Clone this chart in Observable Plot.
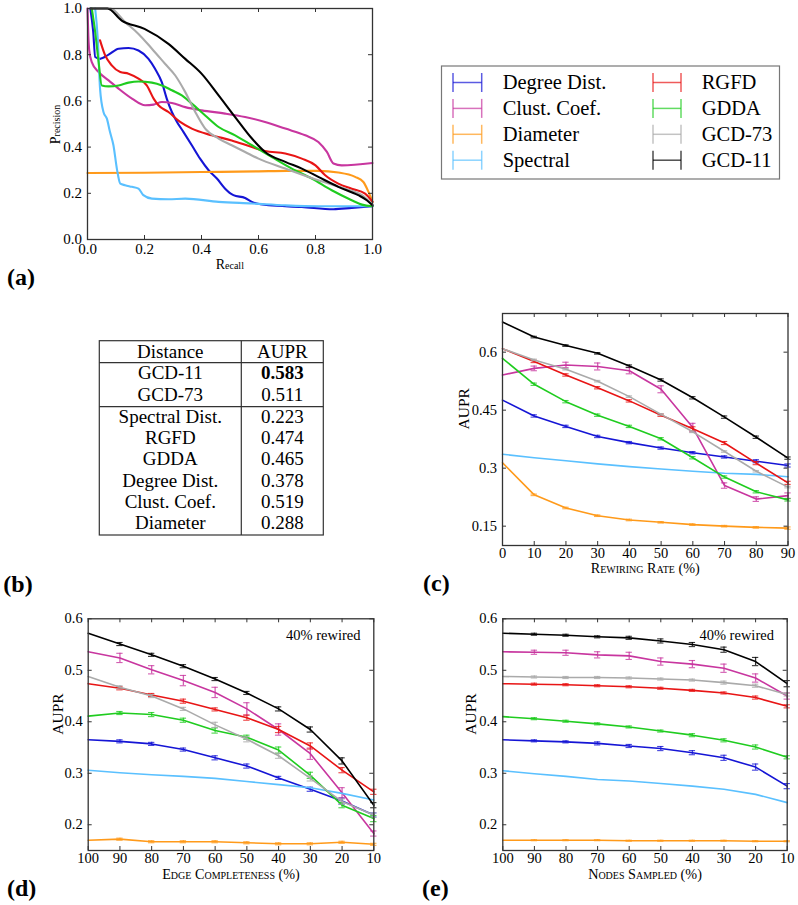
<!DOCTYPE html>
<html><head><meta charset="utf-8">
<script src="https://cdn.jsdelivr.net/npm/d3@7"></script>
<script src="https://cdn.jsdelivr.net/npm/@observablehq/plot@0.6"></script>
<style>
html,body{margin:0;padding:0;background:#fff;}
#root{position:relative;width:798px;height:905px;overflow:hidden;background:#fff;font-family:'Liberation Serif','Times New Roman',serif;}
#root svg{position:absolute;}
</style></head><body><div id="root"></div>
<script>
// ---------- series ----------
const seriesNames = ["Degree Dist.","Clust. Coef.","Diameter","Spectral","RGFD","GDDA","GCD-73","GCD-11"];
const seriesColors = ["#1515d5","#c8369f","#ff9a1a","#5ac0ff","#e81515","#1fcc1f","#aaaaaa","#000000"];

// ---------- (a) precision-recall curves: [recall, precision] ----------
const prDegree = [[0.01,1.0],[0.02,0.9],[0.027,0.79],[0.044,0.782],[0.074,0.80],[0.109,0.826],[0.144,0.829],[0.179,0.818],[0.214,0.782],[0.237,0.739],[0.261,0.68],[0.278,0.61],[0.296,0.552],[0.314,0.509],[0.337,0.465],[0.366,0.408],[0.395,0.35],[0.425,0.30],[0.454,0.264],[0.483,0.22],[0.512,0.192],[0.553,0.18],[0.577,0.163],[0.635,0.148],[0.752,0.141],[0.863,0.131],[0.927,0.137],[1.0,0.144]];
const prClust = [[0.0,1.0],[0.003,0.88],[0.006,0.82],[0.015,0.768],[0.039,0.725],[0.074,0.689],[0.109,0.653],[0.156,0.61],[0.202,0.581],[0.232,0.584],[0.261,0.595],[0.296,0.591],[0.343,0.573],[0.401,0.559],[0.483,0.545],[0.553,0.53],[0.623,0.509],[0.694,0.48],[0.764,0.451],[0.81,0.422],[0.84,0.379],[0.863,0.329],[0.892,0.321],[1.0,0.331]];
const prDiameter = [[0.0,0.288],[0.2,0.289],[0.4,0.292],[0.6,0.295],[0.7,0.297],[0.81,0.297],[0.88,0.29],[0.939,0.271],[0.968,0.249],[0.986,0.206],[1.0,0.163]];
const prSpectral = [[0.027,1.0],[0.036,0.869],[0.044,0.653],[0.056,0.552],[0.068,0.523],[0.079,0.465],[0.091,0.408],[0.103,0.307],[0.115,0.242],[0.132,0.235],[0.156,0.228],[0.179,0.22],[0.196,0.192],[0.226,0.177],[0.284,0.174],[0.343,0.177],[0.46,0.163],[0.577,0.156],[0.694,0.148],[0.81,0.144],[1.0,0.144]];
const prRGFD = [[0.044,0.862],[0.062,0.797],[0.085,0.754],[0.115,0.725],[0.144,0.718],[0.179,0.696],[0.208,0.667],[0.232,0.61],[0.249,0.581],[0.284,0.552],[0.325,0.509],[0.366,0.48],[0.436,0.451],[0.506,0.429],[0.577,0.40],[0.623,0.383],[0.694,0.372],[0.752,0.35],[0.80,0.321],[0.834,0.278],[0.88,0.242],[0.927,0.22],[0.974,0.199],[1.0,0.163]];
const prGDDA = [[0.015,1.0],[0.027,0.898],[0.039,0.768],[0.05,0.667],[0.074,0.663],[0.109,0.667],[0.144,0.679],[0.179,0.684],[0.226,0.679],[0.261,0.667],[0.296,0.646],[0.331,0.624],[0.366,0.588],[0.413,0.537],[0.46,0.487],[0.518,0.451],[0.577,0.408],[0.647,0.357],[0.717,0.307],[0.787,0.264],[0.857,0.213],[0.927,0.17],[0.963,0.151],[1.0,0.144]];
const prGCD73 = [[0.01,1.0],[0.08,1.0],[0.132,0.941],[0.179,0.89],[0.226,0.826],[0.272,0.761],[0.308,0.71],[0.343,0.638],[0.378,0.552],[0.413,0.48],[0.46,0.437],[0.506,0.408],[0.553,0.379],[0.6,0.35],[0.694,0.307],[0.81,0.256],[0.904,0.22],[0.963,0.192],[1.0,0.151]];
const prGCD11 = [[0.01,1.0],[0.07,1.0],[0.12,0.948],[0.2,0.912],[0.284,0.847],[0.343,0.782],[0.40,0.718],[0.46,0.624],[0.518,0.53],[0.577,0.437],[0.623,0.379],[0.694,0.336],[0.752,0.307],[0.81,0.271],[0.88,0.228],[0.95,0.192],[0.98,0.17],[1.0,0.148]];
const prCurves = [prDegree, prClust, prDiameter, prSpectral, prRGFD, prGDDA, prGCD73, prGCD11];
const prTicks = [0,0.2,0.4,0.6,0.8,1.0];

// ---------- (b) table ----------
const tableDistances = ["GCD-11","GCD-73","Spectral Dist.","RGFD","GDDA","Degree Dist.","Clust. Coef.","Diameter"];
const tableAUPR = ["0.583","0.511","0.223","0.474","0.465","0.378","0.519","0.288"];

// ---------- (c) rewiring ----------
const rewiringRate = [0,10,20,30,40,50,60,70,80,90];
const auprRewiring = [
  [0.476,0.435,0.408,0.382,0.366,0.352,0.340,0.329,0.318,0.307],
  [0.541,0.558,0.567,0.563,0.552,0.504,0.405,0.255,0.220,0.229],
  [0.314,0.231,0.197,0.177,0.166,0.160,0.154,0.150,0.147,0.145],
  [0.336,0.327,0.319,0.311,0.304,0.298,0.292,0.287,0.284,0.278],
  [0.609,0.576,0.541,0.508,0.474,0.437,0.402,0.365,0.313,0.262],
  [0.584,0.517,0.472,0.437,0.408,0.376,0.327,0.277,0.239,0.218],
  [0.609,0.580,0.556,0.525,0.485,0.439,0.394,0.343,0.292,0.251],
  [0.678,0.639,0.617,0.597,0.564,0.528,0.482,0.432,0.380,0.326]];
const errRewiring = [
  [0,.003,.003,.003,.003,.003,.003,.003,.004,.004],
  [0,.006,.007,.009,.008,.009,.011,.007,.006,.007],
  [0,.002,.002,.002,.002,.002,.002,.002,.002,.003],
  [0,0,0,0,0,0,0,0,0,0],
  [0,.003,.003,.003,.003,.003,.005,.004,.004,.004],
  [0,.003,.003,.003,.003,.003,.003,.003,.003,.003],
  [0,.002,.002,.002,.002,.002,.002,.002,.002,.002],
  [0,.002,.002,.002,.003,.003,.003,.003,.003,.003]];
const ticksRewiringY = [0.15,0.3,0.45,0.6];

// ---------- (d) edge completeness ----------
const percentLevels = [100,90,80,70,60,50,40,30,20,10];
const auprCompleteness = [
  [0.365,0.362,0.357,0.346,0.330,0.314,0.291,0.269,0.246,0.219],
  [0.536,0.524,0.501,0.480,0.457,0.425,0.385,0.338,0.262,0.183],
  [0.170,0.172,0.167,0.167,0.167,0.165,0.163,0.163,0.166,0.162],
  [0.306,0.301,0.297,0.294,0.290,0.284,0.278,0.272,0.261,0.248],
  [0.474,0.465,0.452,0.440,0.424,0.408,0.385,0.353,0.306,0.264],
  [0.411,0.417,0.414,0.403,0.383,0.370,0.345,0.296,0.238,0.212],
  [0.488,0.467,0.450,0.425,0.394,0.366,0.334,0.290,0.245,0.219],
  [0.572,0.551,0.530,0.508,0.483,0.456,0.425,0.385,0.324,0.238]];
const errCompleteness = [
  [0,.003,.003,.003,.004,.004,.003,.004,.006,.004],
  [0,.009,.008,.010,.010,.012,.011,.011,.010,.005],
  [0,.002,.002,.002,.002,.002,.002,.002,.002,.002],
  [0,0,0,0,0,0,0,0,0,0],
  [0,.003,.003,.004,.003,.005,.006,.006,.005,.005],
  [0,.003,.004,.004,.005,.004,.006,.006,.005,.006],
  [0,.003,.003,.003,.005,.005,.005,.005,.005,.004],
  [0,.003,.003,.003,.003,.003,.004,.005,.006,.005]];

// ---------- (e) nodes sampled ----------
const auprSampled = [
  [0.365,0.363,0.361,0.358,0.353,0.348,0.340,0.330,0.312,0.275],
  [0.536,0.535,0.534,0.530,0.528,0.517,0.512,0.504,0.485,0.450],
  [0.170,0.170,0.170,0.170,0.169,0.169,0.169,0.169,0.168,0.168],
  [0.305,0.299,0.294,0.288,0.285,0.280,0.275,0.269,0.259,0.243],
  [0.474,0.473,0.472,0.470,0.468,0.465,0.461,0.456,0.447,0.430],
  [0.410,0.406,0.401,0.396,0.390,0.382,0.374,0.364,0.351,0.331],
  [0.488,0.487,0.486,0.486,0.485,0.483,0.481,0.476,0.470,0.453],
  [0.572,0.570,0.568,0.565,0.563,0.557,0.550,0.540,0.517,0.474]];
const errSampled = [
  [0,.002,.002,.003,.003,.004,.004,.005,.006,.005],
  [0,.004,.005,.006,.007,.007,.007,.008,.008,.006],
  [0,.001,.001,.001,.001,.001,.001,.001,.001,.001],
  [0,0,0,0,0,0,0,0,0,0],
  [0,.002,.002,.002,.002,.002,.002,.002,.003,.003],
  [0,.002,.002,.002,.002,.002,.003,.003,.004,.003],
  [0,.002,.002,.002,.002,.002,.002,.003,.003,.003],
  [0,.002,.002,.002,.003,.004,.004,.005,.008,.006]];
const ticksAuprY = [0.2,0.3,0.4,0.5,0.6];

// ---------- helpers ----------
const FONT = "'Liberation Serif', 'Times New Roman', serif";
const FRAME = "#333";
const root = document.getElementById("root");

function innerTicks(xTicks, yTicks, W, H, m) {
  const ih = H - m.top - m.bottom, iw = W - m.left - m.right, L = 4;
  return [
    Plot.tickX(xTicks, {x: d => d, insetTop: ih - L, stroke: FRAME}),
    Plot.tickX(xTicks, {x: d => d, insetBottom: ih - L, stroke: FRAME}),
    Plot.tickY(yTicks, {y: d => d, insetRight: iw - L, stroke: FRAME}),
    Plot.tickY(yTicks, {y: d => d, insetLeft: iw - L, stroke: FRAME})
  ];
}

function place(svg, left, top) {
  svg.style.left = left + "px";
  svg.style.top = top + "px";
  root.appendChild(svg);
  return svg;
}

// ---------- (a) ----------
{
  const W = 385, H = 280, m = {top: 8, right: 13, bottom: 41, left: 87};
  const marks = [];
  prCurves.forEach((c, i) => {
    marks.push(Plot.line(c, {x: d => d[0], y: d => d[1], stroke: seriesColors[i], strokeWidth: 2.1, curve: "monotone-x"}));
  });
  marks.push(...innerTicks(prTicks, prTicks, W, H, m));
  marks.push(Plot.frame({stroke: FRAME, strokeWidth: 1.3}));
  const svg = Plot.plot({
    width: W, height: H, marginTop: m.top, marginRight: m.right, marginBottom: m.bottom, marginLeft: m.left,
    style: {fontFamily: FONT, fontSize: "15px", color: "#000", background: "transparent", overflow: "visible"},
    x: {domain: [0, 1], ticks: prTicks, tickFormat: d3.format(".1f"), tickSize: 0, tickPadding: 4, label: null},
    y: {domain: [0, 1], ticks: prTicks, tickFormat: d3.format(".1f"), tickSize: 0, tickPadding: 5.5, label: null},
    marks
  });
  place(svg, 0, 0);
  const s = d3.select(svg);
  const t1 = s.append("text").attr("x", 229.8).attr("y", 268.5).attr("text-anchor", "middle")
    .style("font-family", FONT).attr("fill", "#000");
  t1.append("tspan").attr("font-size", 14).text("R");
  t1.append("tspan").attr("font-size", 10).text("ecall");
  const t2 = s.append("text").attr("transform", "translate(60,124.5) rotate(-90)").attr("text-anchor", "middle")
    .style("font-family", FONT).attr("fill", "#000");
  t2.append("tspan").attr("font-size", 14).text("P");
  t2.append("tspan").attr("font-size", 10).text("recision");
}

// ---------- line panels (c), (d), (e) ----------
function linePanel({xs, vals, errs, xDomain, xTicks, yDomain, yTicks, yFmt, W, H, m, xLabel, xLabelDy, xPad, yLabelDx, note, cap, left, top}) {
  const marks = [];
  vals.forEach((arr, i) => {
    const pts = arr.map((v, j) => ({x: xs[j], v, e: errs[i][j]}));
    marks.push(Plot.line(pts, {x: "x", y: "v", stroke: seriesColors[i], strokeWidth: 1.6}));
    const ep = pts.filter(p => p.e > 0);
    const c = seriesColors[i];
    marks.push(Plot.ruleX(ep, {x: "x", y1: p => p.v - p.e, y2: p => p.v + p.e, stroke: c, strokeWidth: 1.3, strokeOpacity: 0.8}));
    marks.push(Plot.ruleY(ep, {y: p => p.v + p.e, x1: p => p.x - cap, x2: p => p.x + cap, stroke: c, strokeWidth: 1.1, strokeOpacity: 0.8}));
    marks.push(Plot.ruleY(ep, {y: p => p.v - p.e, x1: p => p.x - cap, x2: p => p.x + cap, stroke: c, strokeWidth: 1.1, strokeOpacity: 0.8}));
  });
  marks.push(...innerTicks(xTicks, yTicks, W, H, m));
  marks.push(Plot.frame({stroke: FRAME, strokeWidth: 1.3}));
  marks.push(Plot.text([xLabel], {text: d => d, frameAnchor: "bottom", dy: xLabelDy, fontVariant: "small-caps", fontSize: 14.2, fill: "#000"}));
  marks.push(Plot.text(["AUPR"], {text: d => d, frameAnchor: "left", dx: yLabelDx, rotate: -90, fontSize: 15.5, fill: "#000"}));
  if (note) marks.push(Plot.text([note], {text: d => d, frameAnchor: "top-right", dx: -13.3, dy: 11, textAnchor: "end", fontSize: 14.5, fill: "#000"}));
  const svg = Plot.plot({
    width: W, height: H, marginTop: m.top, marginRight: m.right, marginBottom: m.bottom, marginLeft: m.left,
    style: {fontFamily: FONT, fontSize: "14.5px", color: "#000", background: "transparent", overflow: "visible"},
    x: {domain: xDomain, ticks: xTicks, tickFormat: d => String(d), tickSize: 0, tickPadding: xPad, label: null},
    y: {domain: yDomain, ticks: yTicks, tickFormat: yFmt, tickSize: 0, tickPadding: 5.5, label: null},
    marks
  });
  place(svg, left, top);
}

linePanel({
  xs: rewiringRate, vals: auprRewiring, errs: errRewiring,
  xDomain: [0, 90], xTicks: rewiringRate, yDomain: [0.1, 0.7], yTicks: ticksRewiringY, yFmt: d => String(d),
  W: 398, H: 300, m: {top: 23, right: 10.5, bottom: 45, left: 102},
  xLabel: "Rewiring Rate (%)", xLabelDy: 27.5, xPad: 2.5, yLabelDx: -38.5, note: null, cap: 1.0, left: 400, top: 290
});
linePanel({
  xs: percentLevels, vals: auprCompleteness, errs: errCompleteness,
  xDomain: [100, 10], xTicks: percentLevels, yDomain: [0.15, 0.6], yTicks: ticksAuprY, yFmt: d3.format(".1f"),
  W: 385, H: 300, m: {top: 18.3, right: 11.7, bottom: 50, left: 87.7},
  xLabel: "Edge Completeness (%)", xLabelDy: 28, xPad: 2.5, yLabelDx: -29.7, note: "40% rewired", cap: 1.0, left: 0, top: 600
});
linePanel({
  xs: percentLevels, vals: auprSampled, errs: errSampled,
  xDomain: [100, 10], xTicks: percentLevels, yDomain: [0.15, 0.6], yTicks: ticksAuprY, yFmt: d3.format(".1f"),
  W: 398, H: 300, m: {top: 18.3, right: 11.3, bottom: 50, left: 102.3},
  xLabel: "Nodes Sampled (%)", xLabelDy: 28, xPad: 2.5, yLabelDx: -31.6, note: "40% rewired", cap: 1.0, left: 400, top: 600
});

// ---------- overlay: legend, table, panel letters ----------
{
  const svg = d3.create("svg").attr("width", 798).attr("height", 905)
    .style("left", "0px").style("top", "0px").style("pointer-events", "none")
    .style("font-family", FONT);
  // legend
  svg.append("rect").attr("x", 441.5).attr("y", 66).attr("width", 338).attr("height", 113)
    .attr("fill", "#fff").attr("stroke", "#777").attr("stroke-width", 1.2);
  seriesNames.forEach((name, i) => {
    const col = i < 4 ? 0 : 1, row = i % 4;
    const y = 82.5 + row * 25.9;
    const x0 = col ? 653 : 453, x1 = col ? 681 : 481.7, tx = col ? 701.7 : 502.7;
    const g = svg.append("g").attr("stroke", seriesColors[i]).attr("stroke-opacity", 0.7).attr("stroke-width", 1.5);
    g.append("line").attr("x1", x0).attr("x2", x1).attr("y1", y).attr("y2", y);
    g.append("line").attr("x1", x0).attr("x2", x0).attr("y1", y - 9.5).attr("y2", y + 9.5);
    g.append("line").attr("x1", x1).attr("x2", x1).attr("y1", y - 9.5).attr("y2", y + 9.5);
    svg.append("text").attr("x", tx).attr("y", y).attr("dy", "0.33em").style("font-family", FONT)
      .attr("font-size", 20.5).attr("fill", "#000").text(name);
  });
  // table
  const tl = 99.3, tr = 323.3, tm = 241.3, tt = 340.7, tb = 535;
  const tg = svg.append("g").attr("stroke", "#333").attr("stroke-width", 1.2).attr("fill", "none");
  tg.append("rect").attr("x", tl).attr("y", tt).attr("width", tr - tl).attr("height", tb - tt);
  tg.append("line").attr("x1", tl).attr("x2", tr).attr("y1", 362.7).attr("y2", 362.7);
  tg.append("line").attr("x1", tl).attr("x2", tr).attr("y1", 406.7).attr("y2", 406.7);
  tg.append("line").attr("x1", tm).attr("x2", tm).attr("y1", tt).attr("y2", tb);
  const c1 = (tl + tm) / 2, c2 = (tm + tr) / 2;
  const rowY = [351.7, 373, 394.5, 416.7, 437.7, 459, 480.5, 501.7, 523];
  const addCell = (x, y, txt, bold) => svg.append("text").attr("x", x).attr("y", y).attr("dy", "0.33em")
    .style("font-family", FONT).attr("text-anchor", "middle").attr("font-size", 19)
    .attr("font-weight", bold ? "bold" : "normal").attr("fill", "#000").text(txt);
  addCell(c1, rowY[0], "Distance");
  addCell(c2, rowY[0], "AUPR");
  tableDistances.forEach((d, i) => {
    addCell(c1, rowY[i + 1], d);
    addCell(c2, rowY[i + 1], tableAUPR[i], i === 0);
  });
  // panel letters
  const letters = [["(a)", 7, 277.5], ["(b)", 3.3, 585], ["(c)", 423, 584], ["(d)", 7, 888.5], ["(e)", 422, 888.5]];
  letters.forEach(([t, x, y]) => svg.append("text").attr("x", x).attr("y", y).attr("dy", "0.3em")
    .style("font-family", FONT).attr("font-size", 24).attr("font-weight", "bold").attr("fill", "#000").text(t));
  root.appendChild(svg.node());
}
</script></body></html>
